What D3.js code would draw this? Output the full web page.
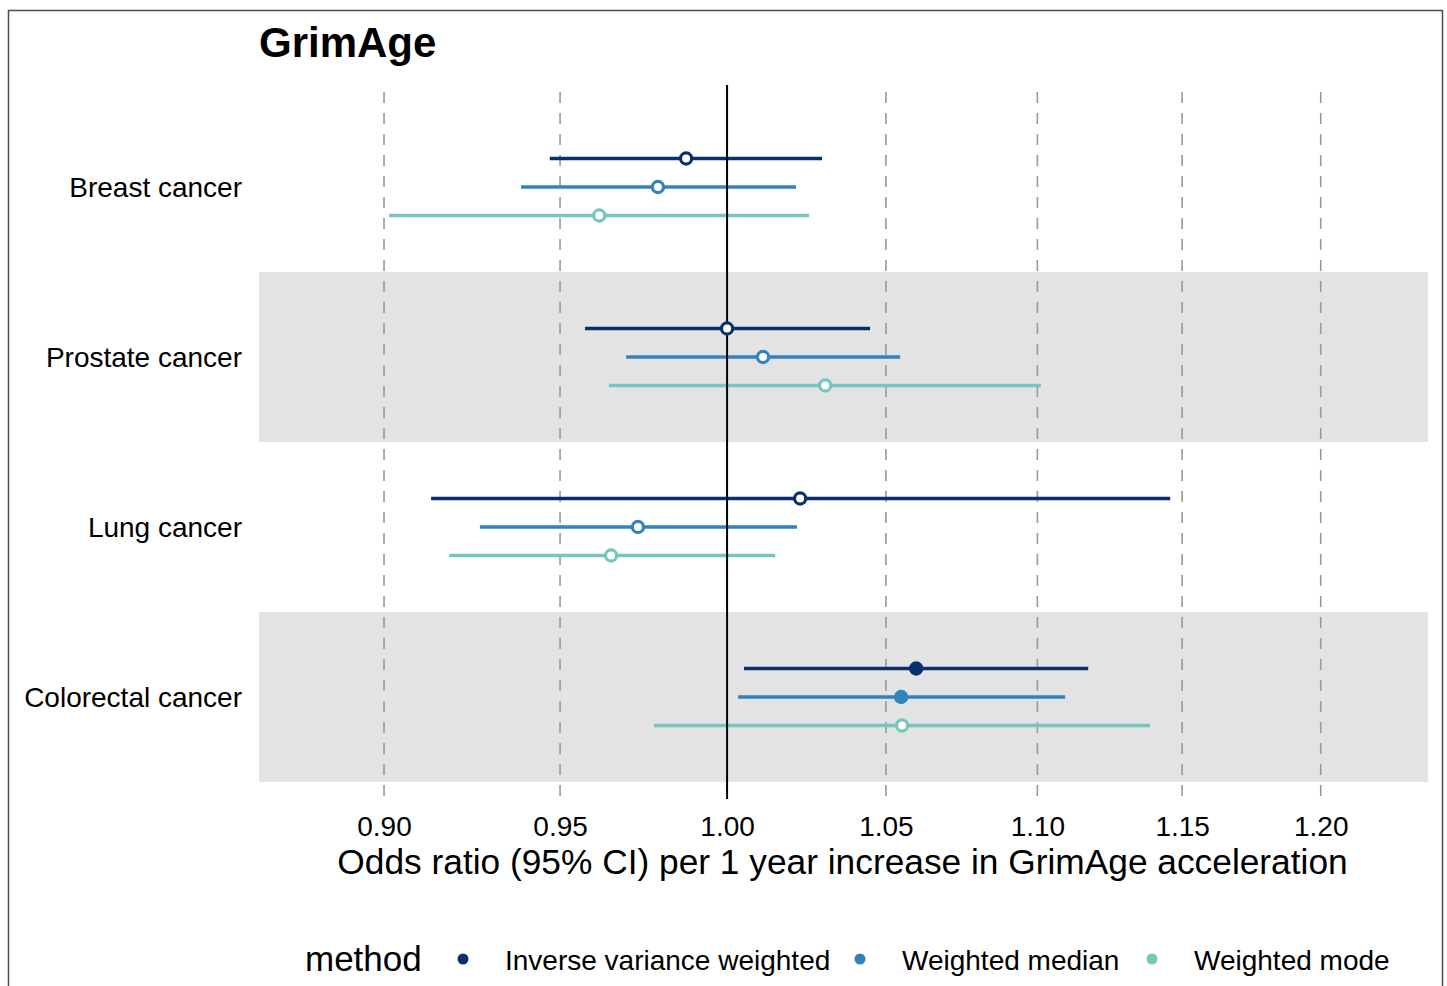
<!DOCTYPE html>
<html>
<head>
<meta charset="utf-8">
<script src="https://cdn.jsdelivr.net/npm/d3@7"></script>
<style>
  html, body { margin: 0; padding: 0; background: #fff; }
  svg { display: block; font-family: "Liberation Sans", Arial, Helvetica, sans-serif; }
</style>
</head>
<body>
<svg id="chart" width="1447" height="986"></svg>
<script>
// Outcomes (top to bottom) and MR methods
const categories = ["Breast cancer", "Prostate cancer", "Lung cancer", "Colorectal cancer"];
const methods = ["Inverse variance weighted", "Weighted median", "Weighted mode"];

// Odds ratios and 95% CI bounds, one array per method, ordered as categories
const orIVW   = [0.9875, 1.0000, 1.0227, 1.0598];
const loIVW   = [0.9470, 0.9573, 0.9131, 1.0052];
const hiIVW   = [1.0296, 1.0449, 1.1458, 1.1173];

const orWMed  = [0.9790, 1.0111, 0.9730, 1.0549];
const loWMed  = [0.9387, 0.9695, 0.9269, 1.0034];
const hiWMed  = [1.0214, 1.0546, 1.0217, 1.1094];

const orWMode = [0.9615, 1.0306, 0.9650, 1.0552];
const loWMode = [0.9014, 0.9644, 0.9182, 0.9778];
const hiWMode = [1.0255, 1.1012, 1.0149, 1.1387];

const xTicks = [0.90, 0.95, 1.00, 1.05, 1.10, 1.15, 1.20];
const methodColors = ["#08306B", "#3182BD", "#74C7BF"];

const estimates = [orIVW, orWMed, orWMode];
const lowers = [loIVW, loWMed, loWMode];
const uppers = [hiIVW, hiWMed, hiWMode];

// long-format rows for drawing
const rows = [];
categories.forEach((cat, i) => {
  methods.forEach((m, j) => {
    const lo = lowers[j][i], hi = uppers[j][i];
    rows.push({ outcome: cat, method: m, or: estimates[j][i], lo, hi, sig: lo > 1 || hi < 1 });
  });
});

const svg = d3.select("#chart");
const panel = { left: 259, right: 1428, top: 85, bottom: 799 };

// outer frame
svg.append("rect")
  .attr("x", 8.5).attr("y", 10.5)
  .attr("width", 1434).attr("height", 990)
  .attr("fill", "#fff").attr("stroke", "#4d4d4d").attr("stroke-width", 1.5);

const x = d3.scaleLog()
  .domain([0.8661, 1.2402])
  .range([panel.left, panel.right]);

const y = d3.scalePoint()
  .domain(categories)
  .range([panel.top, panel.bottom])
  .padding(0.6);

const dodge = d3.scalePoint()
  .domain(methods)
  .range([-28.5, 28.5]);

const color = d3.scaleOrdinal().domain(methods).range(methodColors);
const step = y.step();

// alternating shaded bands
svg.append("g").selectAll("rect")
  .data(categories.filter((d, i) => i % 2 === 1))
  .join("rect")
  .attr("x", panel.left)
  .attr("width", panel.right - panel.left)
  .attr("y", d => y(d) - step / 2)
  .attr("height", step)
  .attr("fill", "#e3e3e3");

// dashed vertical grid lines
svg.append("g").selectAll("line")
  .data(xTicks.filter(t => t !== 1))
  .join("line")
  .attr("x1", d => x(d)).attr("x2", d => x(d))
  .attr("y1", panel.top).attr("y2", panel.bottom)
  .attr("stroke", "#999").attr("stroke-width", 1.6)
  .attr("stroke-dasharray", "11,10")
  .attr("stroke-dashoffset", -7);

// confidence intervals
svg.append("g").selectAll("line")
  .data(rows)
  .join("line")
  .attr("x1", d => x(d.lo)).attr("x2", d => x(d.hi))
  .attr("y1", d => y(d.outcome) + dodge(d.method))
  .attr("y2", d => y(d.outcome) + dodge(d.method))
  .attr("stroke", d => color(d.method))
  .attr("stroke-width", 3.6);

// null line at OR = 1
svg.append("line")
  .attr("x1", x(1)).attr("x2", x(1))
  .attr("y1", panel.top).attr("y2", panel.bottom)
  .attr("stroke", "#000").attr("stroke-width", 2);

// point estimates: filled when the CI excludes 1
svg.append("g").selectAll("circle")
  .data(rows)
  .join("circle")
  .attr("cx", d => x(d.or))
  .attr("cy", d => y(d.outcome) + dodge(d.method))
  .attr("r", d => d.sig ? 7.2 : 5.6)
  .attr("fill", d => d.sig ? color(d.method) : "#fff")
  .attr("stroke", d => d.sig ? "none" : color(d.method))
  .attr("stroke-width", 3.2);

// x axis
const xAxis = svg.append("g")
  .attr("transform", `translate(0,${panel.bottom})`)
  .call(d3.axisBottom(x).tickValues(xTicks).tickFormat(d3.format(".2f")).tickSize(0));
xAxis.select(".domain").remove();
xAxis.selectAll("text")
  .attr("y", 37).attr("dy", null)
  .attr("font-size", 28).attr("fill", "#000")
  .attr("font-family", "Liberation Sans, Arial, sans-serif");

// y axis
const yAxis = svg.append("g")
  .attr("transform", `translate(${panel.left},0)`)
  .call(d3.axisLeft(y).tickSize(0).tickPadding(17));
yAxis.select(".domain").remove();
yAxis.selectAll("text")
  .attr("dy", "0.34em")
  .attr("font-size", 28).attr("fill", "#000")
  .attr("font-family", "Liberation Sans, Arial, sans-serif");

// axis title
svg.append("text")
  .attr("x", (panel.left + panel.right) / 2 - 1)
  .attr("y", 874)
  .attr("text-anchor", "middle")
  .attr("font-size", 35.3)
  .text("Odds ratio (95% CI) per 1 year increase in GrimAge acceleration");

// plot title
svg.append("text")
  .attr("x", 259).attr("y", 57)
  .attr("font-size", 42).attr("font-weight", "bold")
  .text("GrimAge");

// legend
const legend = svg.append("g");
legend.append("text")
  .attr("x", 305).attr("y", 971)
  .attr("font-size", 35)
  .text("method");
const legendX = [463, 860, 1152];
methods.forEach((m, i) => {
  legend.append("circle")
    .attr("cx", legendX[i]).attr("cy", 959).attr("r", 5.5)
    .attr("fill", color(m));
  legend.append("text")
    .attr("x", legendX[i] + 42).attr("y", 970)
    .attr("font-size", 28)
    .text(m);
});
</script>
</body>
</html>
